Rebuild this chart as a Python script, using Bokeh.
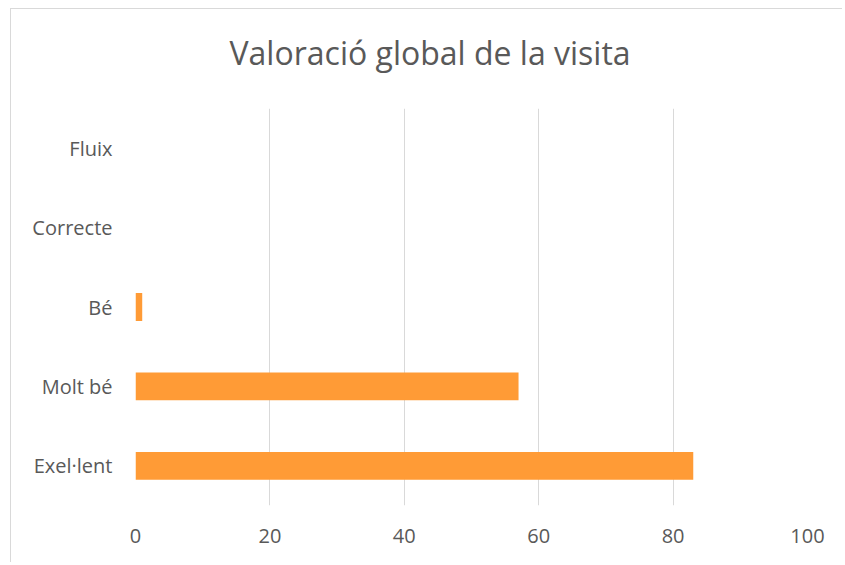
from bokeh.plotting import figure
from bokeh.models import Title, FactorRange, Range1d, FixedTicker
from bokeh.embed import file_html
from bokeh.resources import INLINE

categories = ["Exel·lent", "Molt bé", "Bé", "Correcte", "Fluix"]
values = [83, 57, 1, 0, 0]
x_ticks = [0, 20, 40, 60, 80, 100]
title_text = "Valoració global de la visita"

FONT = "Open Sans"
TEXT_COLOR = "#595959"

p = figure(
    width=832, height=554,
    y_range=FactorRange(factors=categories, range_padding=0),
    x_range=Range1d(0, 100),
    output_backend="svg", toolbar_location=None,
    min_border_left=124, min_border_right=36,
    min_border_top=99, min_border_bottom=58,
)
p.styles = {"margin-left": "10px", "margin-top": "8px",
            "border-left": "1px solid #d9d9d9", "border-top": "1px solid #d9d9d9"}

# spacer between the frame and the title
spacer = Title(text=" ", text_font_size="1px", standoff=32)
p.add_layout(spacer, "above")

t = Title(text=title_text, align="left", offset=94,
          text_font=FONT, text_font_size="32px", text_font_style="normal",
          text_color=TEXT_COLOR, standoff=0)
p.add_layout(t, "above")

p.hbar(y=categories, right=values, left=0, height=0.35,
       fill_color="#FF9B36", line_color=None)

p.outline_line_color = None
p.background_fill_color = "white"
p.border_fill_color = "white"

p.xgrid.grid_line_color = "#d9d9d9"
p.xgrid.grid_line_width = 1
p.ygrid.grid_line_color = None

p.xaxis.ticker = FixedTicker(ticks=x_ticks)
for ax in (p.xaxis[0], p.yaxis[0]):
    ax.axis_line_color = None
    ax.major_tick_line_color = None
    ax.minor_tick_line_color = None
    ax.major_label_text_font = FONT
    ax.major_label_text_font_size = "20px"
    ax.major_label_text_color = TEXT_COLOR
p.xaxis.major_label_standoff = 17
p.yaxis.major_label_standoff = 17

open("out.html", "w").write(file_html(p, INLINE))
